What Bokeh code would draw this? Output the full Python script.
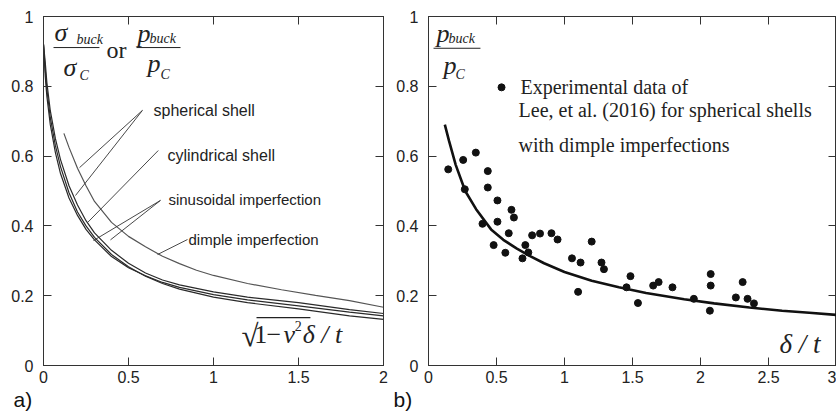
from bokeh.plotting import figure
from bokeh.layouts import row
from bokeh.models import LinearAxis, FixedTicker, CustomJSTickFormatter, Range1d, Label, Title
from bokeh.embed import file_html
from bokeh.resources import INLINE

# ---------------- data: panel a) ----------------
a_x = [0, 0.01, 0.02, 0.04, 0.07, 0.1, 0.15, 0.2, 0.25, 0.3, 0.4, 0.5, 0.6, 0.7, 0.8, 1.0, 1.2, 1.5, 1.8, 2.0]
curve_inner = [0.92, 0.83, 0.77, 0.69, 0.61, 0.55, 0.48, 0.43, 0.39, 0.36, 0.312, 0.28, 0.257, 0.238, 0.224, 0.203, 0.188, 0.171, 0.153, 0.142]
curve_middle = [0.92, 0.85, 0.79, 0.71, 0.63, 0.57, 0.495, 0.44, 0.40, 0.367, 0.318, 0.283, 0.256, 0.235, 0.219, 0.196, 0.180, 0.162, 0.142, 0.132]
curve_outer = [0.92, 0.87, 0.81, 0.73, 0.65, 0.59, 0.515, 0.46, 0.415, 0.38, 0.33, 0.293, 0.265, 0.245, 0.231, 0.211, 0.196, 0.180, 0.160, 0.149]
dimple_x = [0.12, 0.15, 0.2, 0.25, 0.3, 0.4, 0.5, 0.6, 0.7, 0.8, 0.9, 1.0, 1.2, 1.4, 1.6, 1.8, 2.0]
dimple_y = [0.665, 0.625, 0.565, 0.515, 0.47, 0.41, 0.37, 0.34, 0.313, 0.292, 0.273, 0.258, 0.235, 0.217, 0.201, 0.186, 0.167]

# ---------------- data: panel b) ----------------
fit_x = [0.12, 0.15, 0.2, 0.27, 0.35, 0.46, 0.55, 0.65, 0.74, 0.85, 1.0, 1.2, 1.4, 1.6, 1.88, 2.1, 2.36, 2.6, 2.8, 3.0]
fit_y = [0.69, 0.645, 0.575, 0.50, 0.448, 0.39, 0.36, 0.335, 0.315, 0.293, 0.268, 0.243, 0.224, 0.208, 0.19, 0.178, 0.166, 0.157, 0.151, 0.145]
exp_x = [0.145, 0.255, 0.348, 0.267, 0.436, 0.436, 0.507, 0.397, 0.507, 0.610, 0.628, 0.590, 0.479, 0.565,
         0.712, 0.734, 0.691, 0.762, 0.820, 0.904, 0.949, 1.200, 1.055, 1.118, 1.100, 1.272, 1.290, 1.456,
         1.485, 1.540, 1.652, 1.692, 1.794, 1.951, 2.075, 2.075, 2.069, 2.260, 2.310, 2.346, 2.393]
exp_y = [0.562, 0.589, 0.610, 0.505, 0.557, 0.510, 0.473, 0.406, 0.412, 0.446, 0.424, 0.379, 0.345, 0.323,
         0.345, 0.324, 0.307, 0.373, 0.378, 0.379, 0.361, 0.355, 0.307, 0.295, 0.211, 0.295, 0.276, 0.224,
         0.256, 0.179, 0.229, 0.239, 0.224, 0.191, 0.262, 0.229, 0.157, 0.195, 0.239, 0.191, 0.178]

a_xticks = [0, 0.5, 1, 1.5, 2]
b_xticks = [0, 0.5, 1, 1.5, 2, 2.5, 3]
yticks = [0, 0.2, 0.4, 0.6, 0.8, 1]

SANS = "Liberation Sans"
SERIF = "Liberation Serif"
AX = "#333333"
FRAME_H = 349.0


def setup(p, xticks):
    fmt = CustomJSTickFormatter(code="return String(tick)")
    blank = CustomJSTickFormatter(code="return ''")
    p.grid.visible = False
    p.outline_line_color = AX
    p.outline_line_width = 1
    for ax in p.xaxis:
        ax.ticker = FixedTicker(ticks=xticks)
        ax.formatter = fmt
        ax.major_label_standoff = 5
    for ax in p.yaxis:
        ax.ticker = FixedTicker(ticks=yticks)
        ax.formatter = fmt
        ax.major_label_standoff = 10
    for ax in list(p.xaxis) + list(p.yaxis):
        ax.major_tick_in = 8
        ax.major_tick_out = 0
        ax.minor_tick_line_color = None
        ax.axis_line_color = AX
        ax.major_tick_line_color = AX
        ax.major_label_text_font = SANS
        ax.major_label_text_font_size = "16px"
        ax.major_label_text_color = "#222222"
    top = LinearAxis(ticker=FixedTicker(ticks=xticks), formatter=blank, major_tick_in=8, major_tick_out=0,
                     minor_tick_line_color=None, major_label_text_font_size="1px",
                     major_label_standoff=0, axis_line_color=AX, major_tick_line_color=AX)
    right = LinearAxis(ticker=FixedTicker(ticks=yticks), formatter=blank, major_tick_in=8, major_tick_out=0,
                       minor_tick_line_color=None, major_label_text_font_size="1px",
                       major_label_standoff=0, axis_line_color=AX, major_tick_line_color=AX)
    p.add_layout(top, "above")
    p.add_layout(right, "right")


def lab(p, x, y, text, font=SANS, size=16, style="normal", color="#222222"):
    # y is the wanted baseline; shift to compensate the renderer's baseline placement
    yy = y + 0.33 * size / FRAME_H
    p.add_layout(Label(x=x, y=yy, text=text, text_font=font, text_font_size=f"{size}px",
                       text_font_style=style, text_color=color,
                       text_baseline="alphabetic", text_align="left"))


# ---------------- panel a ----------------
p1 = figure(width=392, height=414, x_range=Range1d(0, 2), y_range=Range1d(0, 1),
            output_backend="svg", toolbar_location=None,
            min_border_left=43, min_border_right=9, min_border_top=16, min_border_bottom=49)
setup(p1, a_xticks)

for ys in (curve_inner, curve_middle, curve_outer):
    p1.line(a_x, ys, line_color="#2a2a2a", line_width=1.2)
p1.line(dimple_x, dimple_y, line_color="#555555", line_width=1.2)

# leader lines (annotation)
leaders_a = [
    ([0.582, 0.212], [0.731, 0.567]),
    ([0.582, 0.188], [0.731, 0.487]),
    ([0.675, 0.26], [0.616, 0.41]),
    ([0.688, 0.294], [0.473, 0.358]),
    ([0.688, 0.394], [0.473, 0.36]),
    ([0.847, 0.671], [0.361, 0.318]),
]
for lx, ly in leaders_a:
    p1.line(lx, ly, line_color="#333333", line_width=0.9)

lab(p1, 0.647, 0.715, "spherical shell", size=16)
lab(p1, 0.729, 0.588, "cylindrical shell", size=16)
lab(p1, 0.735, 0.462, "sinusoidal imperfection", size=15)
lab(p1, 0.853, 0.348, "dimple imperfection", size=15)

# y label: sigma_buck / sigma_C  or  p_buck / p_C
lab(p1, 0.065, 0.931, "σ", font=SERIF, size=26, style="italic")
lab(p1, 0.194, 0.920, "buck", font=SERIF, size=14, style="italic")
p1.segment(x0=[0.059, 0.547], y0=[0.911, 0.911], x1=[0.329, 0.806], y1=[0.911, 0.911],
           line_color="#222222", line_width=1)
lab(p1, 0.118, 0.828, "σ", font=SERIF, size=26, style="italic")
lab(p1, 0.212, 0.819, "C", font=SERIF, size=14, style="italic")
lab(p1, 0.371, 0.882, "or", font=SERIF, size=24)
lab(p1, 0.553, 0.928, "p", font=SERIF, size=26, style="italic")
lab(p1, 0.624, 0.923, "buck", font=SERIF, size=14, style="italic")
lab(p1, 0.612, 0.840, "p", font=SERIF, size=26, style="italic")
lab(p1, 0.688, 0.822, "C", font=SERIF, size=14, style="italic")

# x label inside: sqrt(1-nu^2) delta / t
lab(p1, 1.165, 0.058, "√", font=SERIF, size=31)
lab(p1, 1.240, 0.063, "1", font=SERIF, size=26)
lab(p1, 1.312, 0.063, "−", font=SERIF, size=26)
lab(p1, 1.412, 0.063, "ν", font=SERIF, size=26, style="italic")
lab(p1, 1.478, 0.100, "2", font=SERIF, size=14)
lab(p1, 1.525, 0.063, "δ / t", font=SERIF, size=26, style="italic")
p1.segment(x0=[1.253], y0=[0.137], x1=[1.57], y1=[0.137], line_color="#222222", line_width=1.2)

p1.add_layout(Title(text="a)", align="left", offset=-30, standoff=0, text_font=SANS,
                    text_font_size="21px", text_font_style="normal", text_color="#111111"), "below")

# ---------------- panel b ----------------
p2 = figure(width=444, height=414, x_range=Range1d(0, 3), y_range=Range1d(0, 1),
            output_backend="svg", toolbar_location=None,
            min_border_left=36, min_border_right=0, min_border_top=16, min_border_bottom=49)
setup(p2, b_xticks)

p2.line(fit_x, fit_y, line_color="#111111", line_width=2.6)
p2.scatter(exp_x, exp_y, size=7, color="#111111")

# legend
p2.scatter([0.537], [0.797], size=7, color="#111111")
lab(p2, 0.676, 0.779, "Experimental data of", font=SERIF, size=20)
lab(p2, 0.662, 0.714, "Lee, et al. (2016) for spherical shells", font=SERIF, size=20)
lab(p2, 0.662, 0.614, "with dimple imperfections", font=SERIF, size=20)

lab(p2, 0.059, 0.928, "p", font=SERIF, size=26, style="italic")
lab(p2, 0.147, 0.923, "buck", font=SERIF, size=14, style="italic")
p2.segment(x0=[0.037], y0=[0.909], x1=[0.382], y1=[0.909], line_color="#222222", line_width=1)
lab(p2, 0.110, 0.834, "p", font=SERIF, size=26, style="italic")
lab(p2, 0.199, 0.822, "C", font=SERIF, size=14, style="italic")

lab(p2, 2.58, 0.037, "δ / t", font=SERIF, size=27, style="italic")

p2.add_layout(Title(text="b)", align="left", offset=-35, standoff=0, text_font=SANS,
                    text_font_size="21px", text_font_style="normal", text_color="#111111"), "below")

layout = row(p1, p2)
open("out.html", "w").write(file_html(layout, INLINE))
